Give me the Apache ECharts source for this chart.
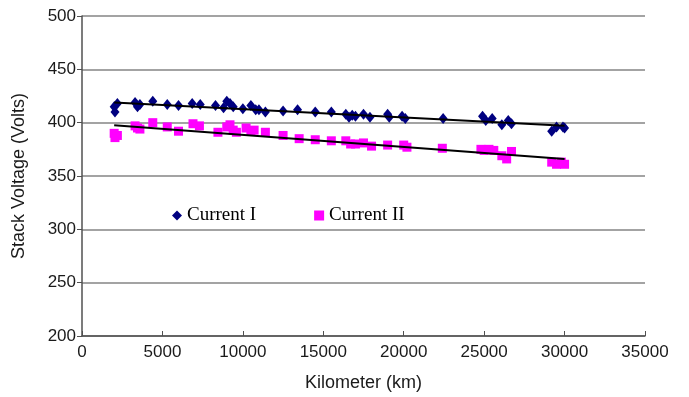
<!DOCTYPE html>
<html>
<head>
<meta charset="utf-8">
<script src="https://cdn.jsdelivr.net/npm/echarts@6/dist/echarts.min.js"></script>
<style>
  html, body { margin: 0; padding: 0; background: #fff; }
  #chart { width: 689px; height: 397px; }
</style>
</head>
<body>
<div id="chart"></div>
<script>
// Current I readings [km, volts]
const currentI = [
  [2000, 415], [2050, 410], [2200, 418],
  [3300, 419], [3450, 415], [3600, 417],
  [4400, 420], [5300, 417], [6000, 416], [6850, 418], [7350, 417],
  [8300, 416], [8800, 414], [9000, 420], [9200, 418], [9400, 415],
  [10000, 413], [10500, 416], [10800, 412], [11000, 412], [11400, 410],
  [12500, 411], [13400, 412], [14500, 410], [15500, 410],
  [16400, 408], [16600, 405], [16800, 407], [17000, 406], [17500, 408], [17900, 405],
  [19000, 408], [19100, 405], [19900, 406], [20100, 404],
  [22450, 404], [24900, 406], [25100, 402], [25500, 404],
  [26100, 398], [26500, 402], [26700, 399],
  [29200, 392], [29500, 396], [29900, 396], [30000, 395]
]

// Current II readings [km, volts]
const currentII = [
  [2000, 390], [2050, 386], [2200, 388],
  [3300, 397], [3450, 395], [3600, 394],
  [4400, 400], [5300, 396], [6000, 392], [6900, 399], [7300, 397],
  [8450, 391], [9000, 396], [9200, 398], [9400, 393], [9600, 391],
  [10200, 395], [10500, 392], [10700, 393], [11400, 391],
  [12500, 388], [13500, 385], [14500, 384], [15500, 383],
  [16400, 383], [16700, 380], [17000, 380], [17500, 381], [18000, 378],
  [19000, 379], [20000, 379], [20200, 377],
  [22400, 376], [24800, 375], [25000, 374], [25300, 375], [25600, 374],
  [26100, 369], [26400, 366], [26700, 373],
  [29200, 363], [29500, 361], [29800, 363], [30000, 361]
]

// Linear trend endpoints
const trendI = [[2000, 419], [30000, 397]]
const trendII = [[2000, 397.5], [30000, 366]]

const xTicks = [0, 5000, 10000, 15000, 20000, 25000, 30000, 35000]
const yTicks = [200, 250, 300, 350, 400, 450, 500]

const NAVY = '#000080'
const MAGENTA = '#ff00ff'
const GRID_GRAY = '#858585'
const AXIS_GRAY = '#505050'
const TEXT = '#1a1a1a'

const chart = echarts.init(document.getElementById('chart'), null, { renderer: 'canvas' })

chart.setOption({
  animation: false,
  backgroundColor: '#fff',
  grid: { left: 82, right: 44, top: 16, bottom: 59, containLabel: false },
  legend: {
    left: 166,
    top: 202,
    itemGap: 58,
    itemWidth: 10,
    itemHeight: 10,
    backgroundColor: '#fff',
    padding: [4, 6, 2, 6],
    textStyle: { fontFamily: 'Liberation Serif', fontSize: 19, color: '#000' },
    data: [
      { name: 'Current I', icon: 'diamond' },
      { name: 'Current II', icon: 'rect' }
    ]
  },
  xAxis: {
    type: 'value',
    min: xTicks[0],
    max: xTicks[xTicks.length - 1],
    interval: 5000,
    name: 'Kilometer (km)',
    nameLocation: 'middle',
    nameGap: 38,
    nameTextStyle: { fontFamily: 'Liberation Sans', fontSize: 18, color: TEXT },
    axisLine: { show: true, lineStyle: { color: AXIS_GRAY, width: 1.5 } },
    axisTick: { show: true, inside: true, length: 5, lineStyle: { color: AXIS_GRAY } },
    axisLabel: {
      fontFamily: 'Liberation Sans', fontSize: 17, color: TEXT, margin: 8,
      formatter: (v) => String(v)
    },
    splitLine: { show: false }
  },
  yAxis: {
    type: 'value',
    min: yTicks[0],
    max: yTicks[yTicks.length - 1],
    interval: 50,
    name: 'Stack Voltage (Volts)',
    nameLocation: 'middle',
    nameGap: 54,
    nameTextStyle: { fontFamily: 'Liberation Sans', fontSize: 18, color: TEXT },
    axisLine: { show: true, lineStyle: { color: AXIS_GRAY, width: 1.5 } },
    axisTick: { show: true, length: 5, lineStyle: { color: AXIS_GRAY } },
    axisLabel: { fontFamily: 'Liberation Sans', fontSize: 17, color: TEXT, margin: 6 },
    splitLine: { show: true, lineStyle: { color: GRID_GRAY, width: 1.5 } }
  },
  series: [
    {
      name: 'Current I',
      type: 'scatter',
      symbol: 'diamond',
      symbolSize: [9, 11],
      itemStyle: { color: NAVY, opacity: 1 },
      data: currentI,
      z: 3
    },
    {
      name: 'Current II',
      type: 'scatter',
      symbol: 'rect',
      symbolSize: 9,
      itemStyle: { color: MAGENTA, opacity: 1 },
      data: currentII,
      z: 2
    },
    {
      name: 'Trend I',
      type: 'line',
      showSymbol: false,
      symbol: 'none',
      lineStyle: { color: '#000', width: 2 },
      data: trendI,
      z: 4
    },
    {
      name: 'Trend II',
      type: 'line',
      showSymbol: false,
      symbol: 'none',
      lineStyle: { color: '#000', width: 2 },
      data: trendII,
      z: 4
    }
  ]
})
</script>
</body>
</html>
